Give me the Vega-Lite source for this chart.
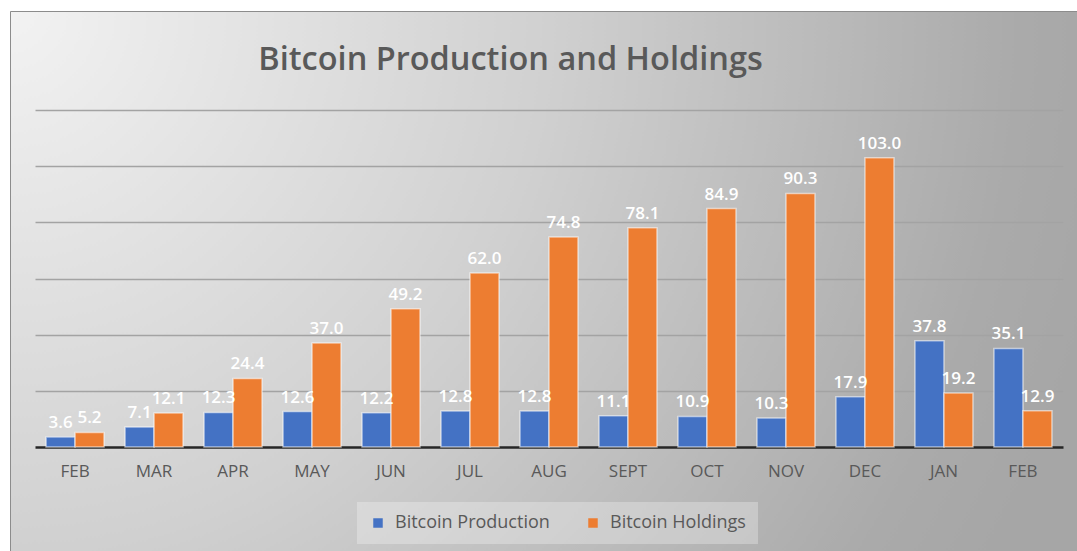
{
  "$schema": "https://vega.github.io/schema/vega-lite/v6.json",
  "width": 1067,
  "height": 540,
  "padding": {"left": 10, "top": 11, "right": 0, "bottom": 0},
  "autosize": {"type": "none"},
  "background": "#ffffff",
  "title": {
    "text": "Bitcoin Production and Holdings",
    "font": "Open Sans",
    "fontSize": 32.5,
    "fontWeight": 600,
    "color": "#595959",
    "anchor": "middle",
    "offset": -65,
    "dx": -33
  },
  "data": {
    "values": [
      {"month": "FEB_1", "series": "Bitcoin Production", "value": 3.6},
      {"month": "FEB_1", "series": "Bitcoin Holdings", "value": 5.2},
      {"month": "MAR", "series": "Bitcoin Production", "value": 7.1},
      {"month": "MAR", "series": "Bitcoin Holdings", "value": 12.1},
      {"month": "APR", "series": "Bitcoin Production", "value": 12.3},
      {"month": "APR", "series": "Bitcoin Holdings", "value": 24.4},
      {"month": "MAY", "series": "Bitcoin Production", "value": 12.6},
      {"month": "MAY", "series": "Bitcoin Holdings", "value": 37.0},
      {"month": "JUN", "series": "Bitcoin Production", "value": 12.2},
      {"month": "JUN", "series": "Bitcoin Holdings", "value": 49.2},
      {"month": "JUL", "series": "Bitcoin Production", "value": 12.8},
      {"month": "JUL", "series": "Bitcoin Holdings", "value": 62.0},
      {"month": "AUG", "series": "Bitcoin Production", "value": 12.8},
      {"month": "AUG", "series": "Bitcoin Holdings", "value": 74.8},
      {"month": "SEPT", "series": "Bitcoin Production", "value": 11.1},
      {"month": "SEPT", "series": "Bitcoin Holdings", "value": 78.1},
      {"month": "OCT", "series": "Bitcoin Production", "value": 10.9},
      {"month": "OCT", "series": "Bitcoin Holdings", "value": 84.9},
      {"month": "NOV", "series": "Bitcoin Production", "value": 10.3},
      {"month": "NOV", "series": "Bitcoin Holdings", "value": 90.3},
      {"month": "DEC", "series": "Bitcoin Production", "value": 17.9},
      {"month": "DEC", "series": "Bitcoin Holdings", "value": 103.0},
      {"month": "JAN", "series": "Bitcoin Production", "value": 37.8},
      {"month": "JAN", "series": "Bitcoin Holdings", "value": 19.2},
      {"month": "FEB_2", "series": "Bitcoin Production", "value": 35.1},
      {"month": "FEB_2", "series": "Bitcoin Holdings", "value": 12.9}
    ]
  },
  "encoding": {
    "x": {
      "field": "month",
      "type": "nominal",
      "sort": null,
      "scale": {"range": [25, 1053], "paddingInner": 0.266, "paddingOuter": 0.14},
      "axis": {
        "title": null,
        "orient": "bottom",
        "offset": -104,
        "labelExpr": "split(datum.label, '_')[0]",
        "labelAngle": 0,
        "labelFont": "Open Sans",
        "labelFontSize": 17,
        "labelColor": "#595959",
        "labelPadding": 16,
        "ticks": false,
        "grid": false,
        "domain": true,
        "domainColor": "#262626",
        "domainWidth": 2.5
      }
    },
    "xOffset": {
      "field": "series",
      "type": "nominal",
      "scale": {"domain": ["Bitcoin Production", "Bitcoin Holdings"], "paddingInner": 0, "paddingOuter": 0}
    },
    "y": {
      "field": "value",
      "type": "quantitative",
      "scale": {"domain": [0, 120], "range": [436, 99], "nice": false, "zero": true},
      "axis": {
        "title": null,
        "labels": false,
        "ticks": false,
        "domain": false,
        "grid": true,
        "values": [20, 40, 60, 80, 100, 120],
        "gridColor": "#a3a3a3",
        "gridWidth": 1.3
      }
    }
  },
  "layer": [
    {
      "mark": {"type": "bar", "stroke": "#ffffff", "strokeWidth": 1.5, "strokeOpacity": 0.55},
      "encoding": {
        "color": {
          "field": "series",
          "type": "nominal",
          "scale": {"domain": ["Bitcoin Production", "Bitcoin Holdings"], "range": ["#4472c4", "#ed7d31"]},
          "legend": {
            "title": null,
            "orient": "none",
            "direction": "horizontal",
            "legendX": 347,
            "legendY": 491,
            "padding": 12,
            "fillColor": "rgba(255,255,255,0.28)",
            "symbolType": "square",
            "symbolSize": 90,
            "symbolStrokeWidth": 0,
            "labelFont": "Open Sans",
            "labelFontSize": 18,
            "labelColor": "#595959",
            "labelOffset": 8,
            "columnPadding": 34
          }
        }
      }
    },
    {
      "mark": {
        "type": "text",
        "font": "Open Sans",
        "fontSize": 17,
        "fontWeight": 600,
        "color": "#ffffff",
        "baseline": "alphabetic",
        "dy": -9
      },
      "encoding": {
        "text": {"field": "value", "type": "quantitative", "format": ".1f"}
      }
    }
  ],
  "config": {
    "view": {
      "stroke": "#8c8c8c",
      "strokeWidth": 1,
      "fill": {
        "gradient": "radial",
        "x1": 0, "y1": 0.247, "r1": 0,
        "x2": 0, "y2": 0.247, "r2": 1.05,
        "stops": [
          {"offset": 0, "color": "#f2f2f2"},
          {"offset": 0.48, "color": "#d0d0d0"},
          {"offset": 0.9, "color": "#aaaaaa"},
          {"offset": 1, "color": "#a6a6a6"}
        ]
      }
    }
  }
}
